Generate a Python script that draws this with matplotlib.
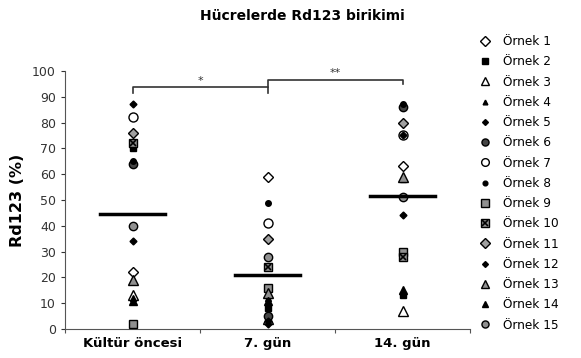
import matplotlib
matplotlib.use("Agg")
import matplotlib.pyplot as plt
import numpy as np
from matplotlib.legend_handler import HandlerTuple

categories = ["Kültür öncesi", "7. gün", "14. gün"]
series_names = [f"Örnek {i}" for i in range(1, 16)]

# values per sample: [Kültür öncesi, 7. gün, 14. gün]
ornek1 = [22, 59, 63]
ornek2 = [70, 8, 13]
ornek3 = [13, 4, 7]
ornek4 = [12, 12, 58]
ornek5 = [34, 2, 44]
ornek6 = [64, 5, 86]
ornek7 = [82, 41, 75]
ornek8 = [65, 49, 87]
ornek9 = [2, 16, 30]
ornek10 = [72, 24, 28]
ornek11 = [76, 35, 80]
ornek12 = [87, 3, 75]
ornek13 = [19, 14, 59]
ornek14 = [11, 11, 15]
ornek15 = [40, 28, 51]
values = [ornek1, ornek2, ornek3, ornek4, ornek5, ornek6, ornek7, ornek8,
          ornek9, ornek10, ornek11, ornek12, ornek13, ornek14, ornek15]

yticks = list(range(0, 101, 10))
sig_labels = ["*", "**"]

styles = [
    dict(marker="D", facecolor="white", edgecolor="black", size=5.5),
    dict(marker="s", facecolor="black", edgecolor="black", size=5),
    dict(marker="^", facecolor="white", edgecolor="black", size=6.5),
    dict(marker="^", facecolor="black", edgecolor="black", size=4),
    dict(marker="D", facecolor="black", edgecolor="black", size=3.5),
    dict(marker="o", facecolor="#444444", edgecolor="black", size=6),
    dict(marker="o", facecolor="white", edgecolor="black", size=6.5),
    dict(marker="o", facecolor="black", edgecolor="black", size=4),
    dict(marker="s", facecolor="#909090", edgecolor="black", size=6),
    dict(marker="s", facecolor="#909090", edgecolor="black", size=6),
    dict(marker="D", facecolor="#a0a0a0", edgecolor="black", size=5.5),
    dict(marker="D", facecolor="black", edgecolor="black", size=3.5),
    dict(marker="^", facecolor="#909090", edgecolor="black", size=6.5),
    dict(marker="^", facecolor="black", edgecolor="black", size=5.5),
    dict(marker="o", facecolor="#909090", edgecolor="black", size=6),
]

fig = plt.figure(figsize=(5.81, 3.58), dpi=100)
ax = fig.add_axes([0.112, 0.081, 0.697, 0.721])

x = np.arange(len(categories))
handles = []
for i, (vals, st) in enumerate(zip(values, styles)):
    h, = ax.plot(x, vals, linestyle="none", marker=st["marker"],
                 markerfacecolor=st["facecolor"], markeredgecolor=st["edgecolor"],
                 markersize=st["size"], markeredgewidth=1.0, zorder=3)
    if i == 9:
        h2, = ax.plot(x, vals, linestyle="none", marker="x", color="black",
                      markersize=5, markeredgewidth=1.2, zorder=4)
        handles.append((h, h2))
    else:
        handles.append(h)

arr = np.array(values)
means = arr.mean(axis=0)
for xi, m in zip(x, means):
    ax.plot([xi - 0.24, xi + 0.24], [m, m], color="black", lw=2.5, zorder=5)

ax.set_xlim(-0.5, 2.5)
ax.set_ylim(0, 100)
ax.set_yticks(yticks)
ax.tick_params(axis="y", labelsize=9, length=3, width=0.8, colors="#333333")
ax.set_xticks(x)
ax.set_xticklabels(categories, fontsize=9.5, fontweight="bold")
ax.tick_params(axis="x", which="major", length=0, pad=6)
ax.set_xticks([-0.5, 0.5, 1.5, 2.5], minor=True)
ax.tick_params(axis="x", which="minor", length=3, width=0.8, color="#555555")
ax.set_ylabel("Rd123 (%)", fontsize=11.5, fontweight="bold", labelpad=5)
for s in ["top", "right"]:
    ax.spines[s].set_visible(False)
for s in ["left", "bottom"]:
    ax.spines[s].set_color("#555555")

# significance brackets
kw = dict(color="#333333", lw=1.2, clip_on=False, zorder=6)
ax.plot([0, 0, 1, 1], [91.5, 93.6, 93.6, 91.5], **kw)
ax.plot([1, 1, 2, 2], [93.6, 96.6, 96.6, 95.0], **kw)
ax.text(0.5, 94.2, sig_labels[0], ha="center", va="bottom", fontsize=8, color="#333333")
ax.text(1.5, 97.2, sig_labels[1], ha="center", va="bottom", fontsize=8, color="#333333")

fig.text(0.52, 0.955, "Hücrelerde Rd123 birikimi", ha="center", va="center",
         fontsize=10, fontweight="bold")

leg = fig.legend(handles, series_names, loc="center left",
                 bbox_to_anchor=(0.806, 0.488), frameon=False, fontsize=8.7,
                 labelspacing=0.6, handletextpad=1.0, handlelength=1.0,
                 markerscale=0.85,
                 handler_map={tuple: HandlerTuple(ndivide=1, pad=0)})

fig.savefig("out.png", dpi=100)
